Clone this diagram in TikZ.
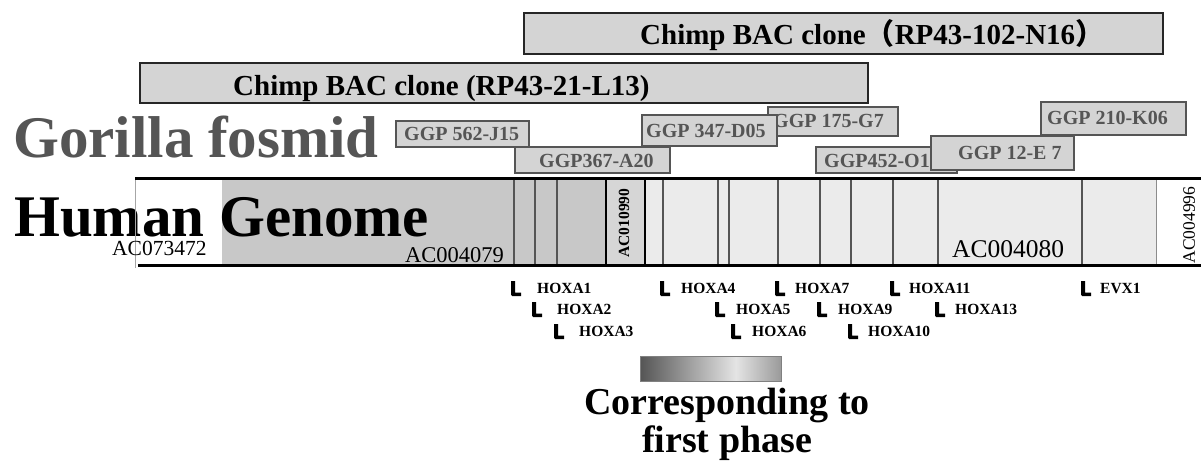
\documentclass[tikz,border=0pt]{standalone}
\usepackage{fontspec}
\setmainfont{Liberation Serif}
\newfontfamily\cjk{Noto Sans CJK JP}
\definecolor{boxgray}{HTML}{D4D4D4}
\definecolor{txtgray}{HTML}{555555}
\definecolor{bandA}{HTML}{C8C8C8}
\definecolor{bandB}{HTML}{EBEBEB}
\definecolor{acfill}{HTML}{D6D6D6}
\definecolor{gdark}{HTML}{555555}
\definecolor{glight}{HTML}{E4E4E4}
\definecolor{gmid}{HTML}{9A9A9A}
\pgfdeclarehorizontalshading{phaseshade}{100bp}{color(0bp)=(gdark); color(25bp)=(gdark); color(59bp)=(glight); color(75bp)=(gmid); color(100bp)=(gmid)}
\tikzset{
  chimpbox/.style={draw=black!85, line width=1.4pt, fill=boxgray},
  ggpbox/.style={draw=txtgray, line width=1.4pt, fill=boxgray},
  chimptext/.style={font=\fontsize{29}{29}\selectfont\bfseries, anchor=base west, inner sep=0pt},
  bigtext/.style={font=\fontsize{59}{59}\selectfont\bfseries, anchor=base west, inner sep=0pt},
  ggptext/.style={font=\fontsize{20}{20}\selectfont\bfseries, text=txtgray, anchor=west, inner sep=0pt},
  hoxtext/.style={font=\fontsize{15.5}{15.5}\selectfont\bfseries, anchor=west, inner sep=0pt},
  actext/.style={inner sep=0pt, anchor=base west},
  gline/.style={draw=txtgray, line width=2.6pt},
  bline/.style={draw=black, line width=2.4pt},
  hoxl/.pic={\fill[black] (-2,-7) -- (2,-7) -- (2,4.5) -- (8,4.5) -- (8,8) -- (-1,8) -- (-2,6.5) -- cycle;}
}
\begin{document}
\begin{tikzpicture}[x=1pt,y=-1pt]
\useasboundingbox[fill=white] (0,0) rectangle (1201,464);

% Chimp BAC clones
\draw[chimpbox] (524,13) rectangle (1163,54);
\node[chimptext] (chimpA) at (640,44) {Chimp BAC clone{\cjk （}RP43-102-N16{\cjk ）}};
\draw[chimpbox] (140,63) rectangle (868,103);
\node[chimptext] (chimpB) at (233,95) {Chimp BAC clone (RP43-21-L13)};

% Gorilla fosmid
\node[bigtext, text=txtgray] (gorilla) at (13,157) {Gorilla fosmid};

% GGP boxes
\draw[ggpbox] (396,121) rectangle (529,147);
\node[ggptext] (g562) at (404,134) {GGP 562-J15};
\draw[ggpbox] (515,147) rectangle (670,173);
\node[ggptext] (g367) at (539,161) {GGP367-A20};
\draw[ggpbox] (768,107) rectangle (898,136);
\node[ggptext] (g175) at (773,121) {GGP 175-G7};
\draw[ggpbox] (642,115) rectangle (777,146);
\node[ggptext] (g347) at (646,131) {GGP 347-D05};
\draw[ggpbox] (816,147) rectangle (957,173);
\node[ggptext] (g452) at (824,161) {GGP452-O13};
\draw[ggpbox] (1041,102) rectangle (1186,135);
\node[ggptext] (g210) at (1047,118) {GGP 210-K06};
\draw[ggpbox] (931,136) rectangle (1074,170);
\node[ggptext] (g12) at (958,153) {GGP 12-E 7};

% Human genome band
\fill[white] (136,178) rectangle (222,265);
\fill[bandA] (222,178) rectangle (645,265);
\fill[acfill] (606,178) rectangle (645,265);
\fill[bandB] (645,178) rectangle (1156,265);
\foreach \x in {514,535,557,663,718,729,778,820,851,893,938,1082}
  \draw[gline] (\x,179) -- (\x,264);
\draw[bline] (606,179) -- (606,264);
\draw[bline] (645,179) -- (645,264);
\draw[draw=black!45, line width=1pt] (1156,179) -- (1156,264);

\node[bigtext] (human) at (14,236) {Human Genome};
\draw[draw=black!35, line width=0.8pt] (135,178) -- (135,268);
\draw[draw=black, line width=3pt] (135,178) -- (1201,178);
\draw[draw=black, line width=3pt] (138,265) -- (1201,265);

\node[actext, font=\fontsize{21.5}{21.5}\selectfont] (ac1) at (112,255) {AC073472};
\node[actext, font=\fontsize{22.5}{22.5}\selectfont] (ac2) at (405,262) {AC004079};
\node[actext, font=\fontsize{25.5}{25.5}\selectfont] (ac3) at (952,257) {AC004080};
\node[inner sep=0pt, rotate=90, font=\fontsize{15.5}{15.5}\selectfont\bfseries] (ac4) at (624,223) {AC010990};
\node[inner sep=0pt, rotate=90, font=\fontsize{17.5}{17.5}\selectfont] (ac5) at (1189,225) {AC004996};

% HOX genes
\foreach \mx/\tx/\yy/\lab in {
  513/537/288/HOXA1, 534/557/309/HOXA2, 556/579/331/HOXA3,
  662/681/288/HOXA4, 717/736/309/HOXA5, 733/752/331/HOXA6,
  777/795/288/HOXA7, 819/838/309/HOXA9, 850/868/331/HOXA10,
  892/909/288/HOXA11, 937/955/309/HOXA13, 1083/1100/288/EVX1} {
  \pic at (\mx,\yy) {hoxl};
  \node[hoxtext] (\lab) at (\tx,\yy) {\lab};
}

% legend
\shade[shading=phaseshade] (640,356) rectangle (781,381);
\draw[draw=black!50, line width=1pt] (640,356) rectangle (781,381);
\node[font=\fontsize{38}{38}\selectfont\bfseries, inner sep=0pt, anchor=base] (leg1) at (727,414) {Corresponding to};
\node[font=\fontsize{38}{38}\selectfont\bfseries, inner sep=0pt, anchor=base] (leg2) at (727,452) {first phase};
\end{tikzpicture}
\end{document}
